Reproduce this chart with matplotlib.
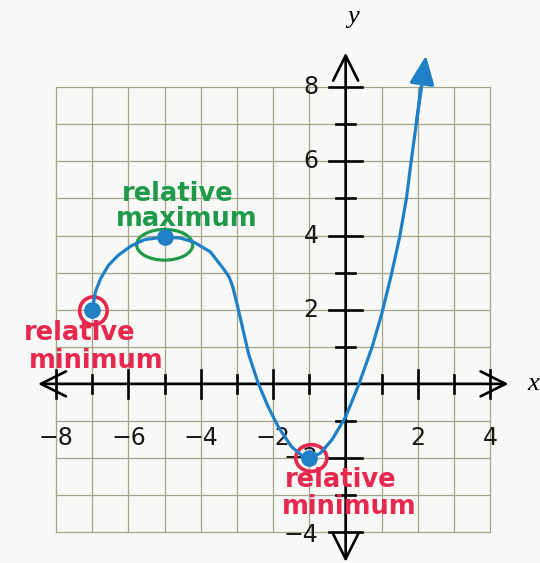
import numpy as np
import matplotlib.pyplot as plt
from matplotlib.patches import Ellipse

# points along the graph of f
curve_x = [-7.0, -6.91, -6.77, -6.55, -6.28, -5.91, -5.55, -5.0, -4.56, -4.19,
           -3.74, -3.38, -3.22, -3.12, -3.0, -2.88, -2.68, -2.41, -2.14, -1.86,
           -1.5, -1.18, -1.0, -0.7, -0.38, 0.0, 0.37, 0.73, 1.0, 1.27, 1.5,
           1.68, 1.81, 1.95, 2.08, 2.22]
curve_y = [2.0, 2.49, 2.84, 3.2, 3.47, 3.73, 3.89, 3.96, 3.93, 3.82,
           3.56, 3.11, 2.88, 2.62, 2.15, 1.65, 0.8, 0.0, -0.62, -1.16,
           -1.69, -1.96, -2.0, -1.87, -1.51, -0.89, 0.0, 0.99, 1.9, 2.97, 4.0,
           5.0, 6.0, 7.0, 8.0, 8.85]

# relative extrema marked on the graph
extrema_x = [-7, -5, -1]
extrema_y = [2, 3.96, -2]

x_labels = [-8, -6, -4, -2, 2, 4]
y_labels = [8, 6, 4, 2, -2, -4]

blue = "#1f80c6"
green = "#1f9a4a"
red = "#e6284f"
grid_col = "#a3a38e"

fig = plt.figure(figsize=(5.4, 5.63), dpi=100)
fig.patch.set_facecolor("#f8f8f6")
ax = fig.add_axes([0, 0, 1, 1])
ax.set_xlim(-9.55, 5.37)
ax.set_ylim(-4.83, 10.35)
ax.axis("off")

# graph paper
for gx in range(-8, 5):
    ax.plot([gx, gx], [-4, 8], color=grid_col, lw=0.9, zorder=1)
for gy in range(-4, 9):
    ax.plot([-8, 4], [gy, gy], color=grid_col, lw=0.9, zorder=1)

# axes with open arrowheads
arrow = dict(arrowstyle="<->,head_length=0.9,head_width=0.45",
             color="black", lw=1.9, mutation_scale=20, shrinkA=0, shrinkB=0)
ax.annotate("", xy=(4.5, 0), xytext=(-8.5, 0), arrowprops=arrow, zorder=3)
ax.annotate("", xy=(0, 8.93), xytext=(0, -4.8), arrowprops=arrow, zorder=3)

for t in range(-8, 5):
    if t == 0:
        continue
    h = 0.38 if t % 2 == 0 else 0.24
    ax.plot([t, t], [-h, h], color="black", lw=1.9, zorder=3)
for t in range(-4, 9):
    if t == 0:
        continue
    h = 0.45 if t % 2 == 0 else 0.27
    ax.plot([-h, h], [t, t], color="black", lw=1.9, zorder=3)

for v in x_labels:
    ax.text(v, -1.45, f"{v}".replace("-", "\u2212"), ha="center", va="center",
            fontsize=17, color="#1a1a1a", zorder=2)
for v in y_labels:
    ax.text(-0.75, v - (0.08 if v == -4 else 0), f"{v}".replace("-", "\u2212"),
            ha="right", va="center", fontsize=17, color="#1a1a1a", zorder=2)

ax.text(0.2, 9.9, "y", fontsize=19, style="italic", family="Liberation Serif",
        ha="center", va="center")
ax.text(5.18, 0.0, "x", fontsize=19, style="italic", family="Liberation Serif",
        ha="center", va="center")

# the graph
ax.plot(curve_x[:-1], curve_y[:-1], color=blue, lw=2.3, zorder=5,
        solid_capstyle="round", solid_joinstyle="round")
ax.annotate("", xy=(curve_x[-1], curve_y[-1]), xytext=(curve_x[-3], curve_y[-3]),
            arrowprops=dict(arrowstyle="-|>,head_length=0.8,head_width=0.35",
                            color=blue, lw=2.3, mutation_scale=22,
                            shrinkA=0, shrinkB=0), zorder=5)
ax.plot(extrema_x, extrema_y, "o", color=blue, markersize=11, zorder=6)

# handwritten notes
hand = dict(family="DejaVu Sans", fontweight="bold", ha="center", va="center",
            fontsize=18.5)
ax.text(-4.65, 5.13, "relative", color=green, **hand)
ax.text(-4.38, 4.45, "maximum", color=green, **hand)
ax.add_patch(Ellipse((-5.0, 3.75), 1.55, 0.83, fill=False, ec=green, lw=2.3,
                     zorder=4))

ax.add_patch(Ellipse((-6.97, 1.97), 0.76, 0.75, fill=False, ec=red, lw=2.6,
                     zorder=4))
ax.text(-7.35, 1.37, "relative", color=red, **hand)
ax.text(-6.9, 0.62, "minimum", color=red, **hand)

ax.add_patch(Ellipse((-0.95, -2.0), 0.86, 0.72, fill=False, ec=red, lw=2.6,
                     zorder=4))
ax.text(-0.14, -2.6, "relative", color=red, zorder=7, **hand)
ax.text(0.1, -3.33, "minimum", color=red, zorder=7, **hand)

fig.savefig("out.png", dpi=100, facecolor=fig.get_facecolor())
